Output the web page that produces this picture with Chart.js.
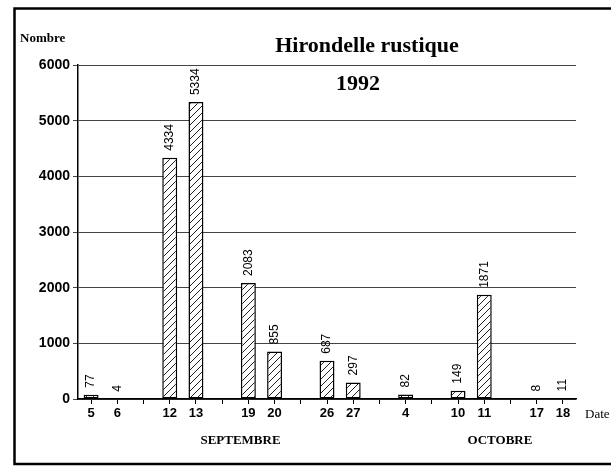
<!DOCTYPE html>
<html>
<head>
<meta charset="utf-8">
<script src="https://cdn.jsdelivr.net/npm/chart.js@4"></script>
<style>
  body { margin: 0; background: #fff; }
  canvas { display: block; }
</style>
</head>
<body>
<canvas id="myChart" width="611" height="466"></canvas>
<script>
// dates of observation (empty slots = gaps between weekends)
const dates = ["5", "6", "", "12", "13", "", "19", "20", "", "26", "27", "", "4", "", "10", "11", "", "17", "18"];
const counts = [77, 4, null, 4334, 5334, null, 2083, 855, null, 687, 297, null, 82, null, 149, 1871, null, 8, 11];
const yTicks = [0, 1000, 2000, 3000, 4000, 5000, 6000];
const months = ["SEPTEMBRE", "OCTOBRE"];
const monthAnchors = [5.7, 15.6];

const makeHatch = () => {
  const c = document.createElement("canvas");
  c.width = 7;
  c.height = 7;
  const g = c.getContext("2d");
  g.fillStyle = "#fff";
  g.fillRect(0, 0, 7, 7);
  g.strokeStyle = "#222";
  g.lineWidth = 1;
  g.beginPath();
  g.moveTo(-1, 8); g.lineTo(8, -1);
  g.moveTo(-2, 2); g.lineTo(2, -2);
  g.moveTo(5, 9); g.lineTo(9, 5);
  g.stroke();
  return g.createPattern(c, "repeat");
};

const decorations = {
  id: "decorations",
  beforeDraw(chart) {
    const ctx = chart.ctx;
    ctx.save();
    ctx.fillStyle = "#fff";
    ctx.fillRect(0, 0, chart.width, chart.height);
    // scanned frame
    ctx.strokeStyle = "#000";
    ctx.lineWidth = 2.5;
    ctx.beginPath();
    ctx.moveTo(611, 8.5);
    ctx.lineTo(14.5, 8.5);
    ctx.lineTo(14.5, 464);
    ctx.lineTo(611, 464);
    ctx.stroke();
    ctx.restore();
  },
  afterDatasetsDraw(chart) {
    const ctx = chart.ctx;
    const meta = chart.getDatasetMeta(0);
    ctx.save();
    ctx.fillStyle = "#000";
    ctx.font = "12px 'Liberation Sans', sans-serif";
    ctx.textAlign = "left";
    ctx.textBaseline = "middle";
    meta.data.forEach((bar, i) => {
      const v = counts[i];
      if (v === null) return;
      ctx.save();
      ctx.translate(bar.x, bar.y - 7);
      ctx.rotate(-Math.PI / 2);
      ctx.fillText(String(v), 0, 0);
      ctx.restore();
    });

    const area = chart.chartArea;
    ctx.textBaseline = "alphabetic";
    ctx.font = "bold 22px 'Liberation Serif', serif";
    ctx.textAlign = "center";
    ctx.fillText("Hirondelle rustique", 367, area.top - 13);
    ctx.fillText("1992", 358, area.top + 25);

    ctx.textAlign = "left";
    ctx.font = "bold 13px 'Liberation Serif', serif";
    ctx.fillText("Nombre", 20, area.top - 23);
    ctx.font = "13px 'Liberation Serif', serif";
    ctx.fillText("Date", 585, area.bottom + 19);

    const x = chart.scales.x;
    ctx.textAlign = "center";
    ctx.font = "bold 13px 'Liberation Serif', serif";
    months.forEach((m, i) => {
      ctx.fillText(m, x.getPixelForValue(monthAnchors[i]), area.bottom + 45);
    });
    ctx.restore();
  },
};

const data = {
  labels: dates,
  datasets: [
    {
      label: "Nombre",
      data: counts,
      backgroundColor: makeHatch(),
      borderColor: "#000",
      borderWidth: 1.5,
      borderSkipped: false,
      categoryPercentage: 1,
      barPercentage: 0.57,
    },
  ],
};

const config = {
  type: "bar",
  data: data,
  options: {
    responsive: false,
    animation: false,
    layout: {
      padding: { top: 65, right: 35, left: 0, bottom: 0 },
    },
    plugins: {
      legend: { display: false },
      title: { display: false },
      tooltip: { enabled: false },
    },
    scales: {
      x: {
        afterFit: (s) => { s.height = 67; },
        border: { display: true, color: "#000", width: 1.5 },
        grid: {
          display: true,
          offset: false,
          drawOnChartArea: false,
          drawTicks: true,
          tickLength: 5,
          color: "#000",
        },
        ticks: {
          autoSkip: false,
          maxRotation: 0,
          padding: 2,
          color: "#000",
          font: { family: "'Liberation Sans', sans-serif", size: 13, weight: "bold" },
        },
      },
      y: {
        min: 0,
        max: 6000,
        afterFit: (s) => { s.width = 78; },
        afterBuildTicks: (s) => { s.ticks = yTicks.map((v) => ({ value: v })); },
        border: { display: true, color: "#000", width: 1.5 },
        grid: {
          color: "#444",
          lineWidth: 1,
          tickLength: 5,
        },
        ticks: {
          padding: 3,
          color: "#000",
          callback: (v) => String(v),
          font: { family: "'Liberation Sans', sans-serif", size: 14, weight: "bold" },
        },
      },
    },
  },
  plugins: [decorations],
};

const ctx = document.getElementById("myChart").getContext("2d");
new Chart(ctx, config);
</script>
</body>
</html>
